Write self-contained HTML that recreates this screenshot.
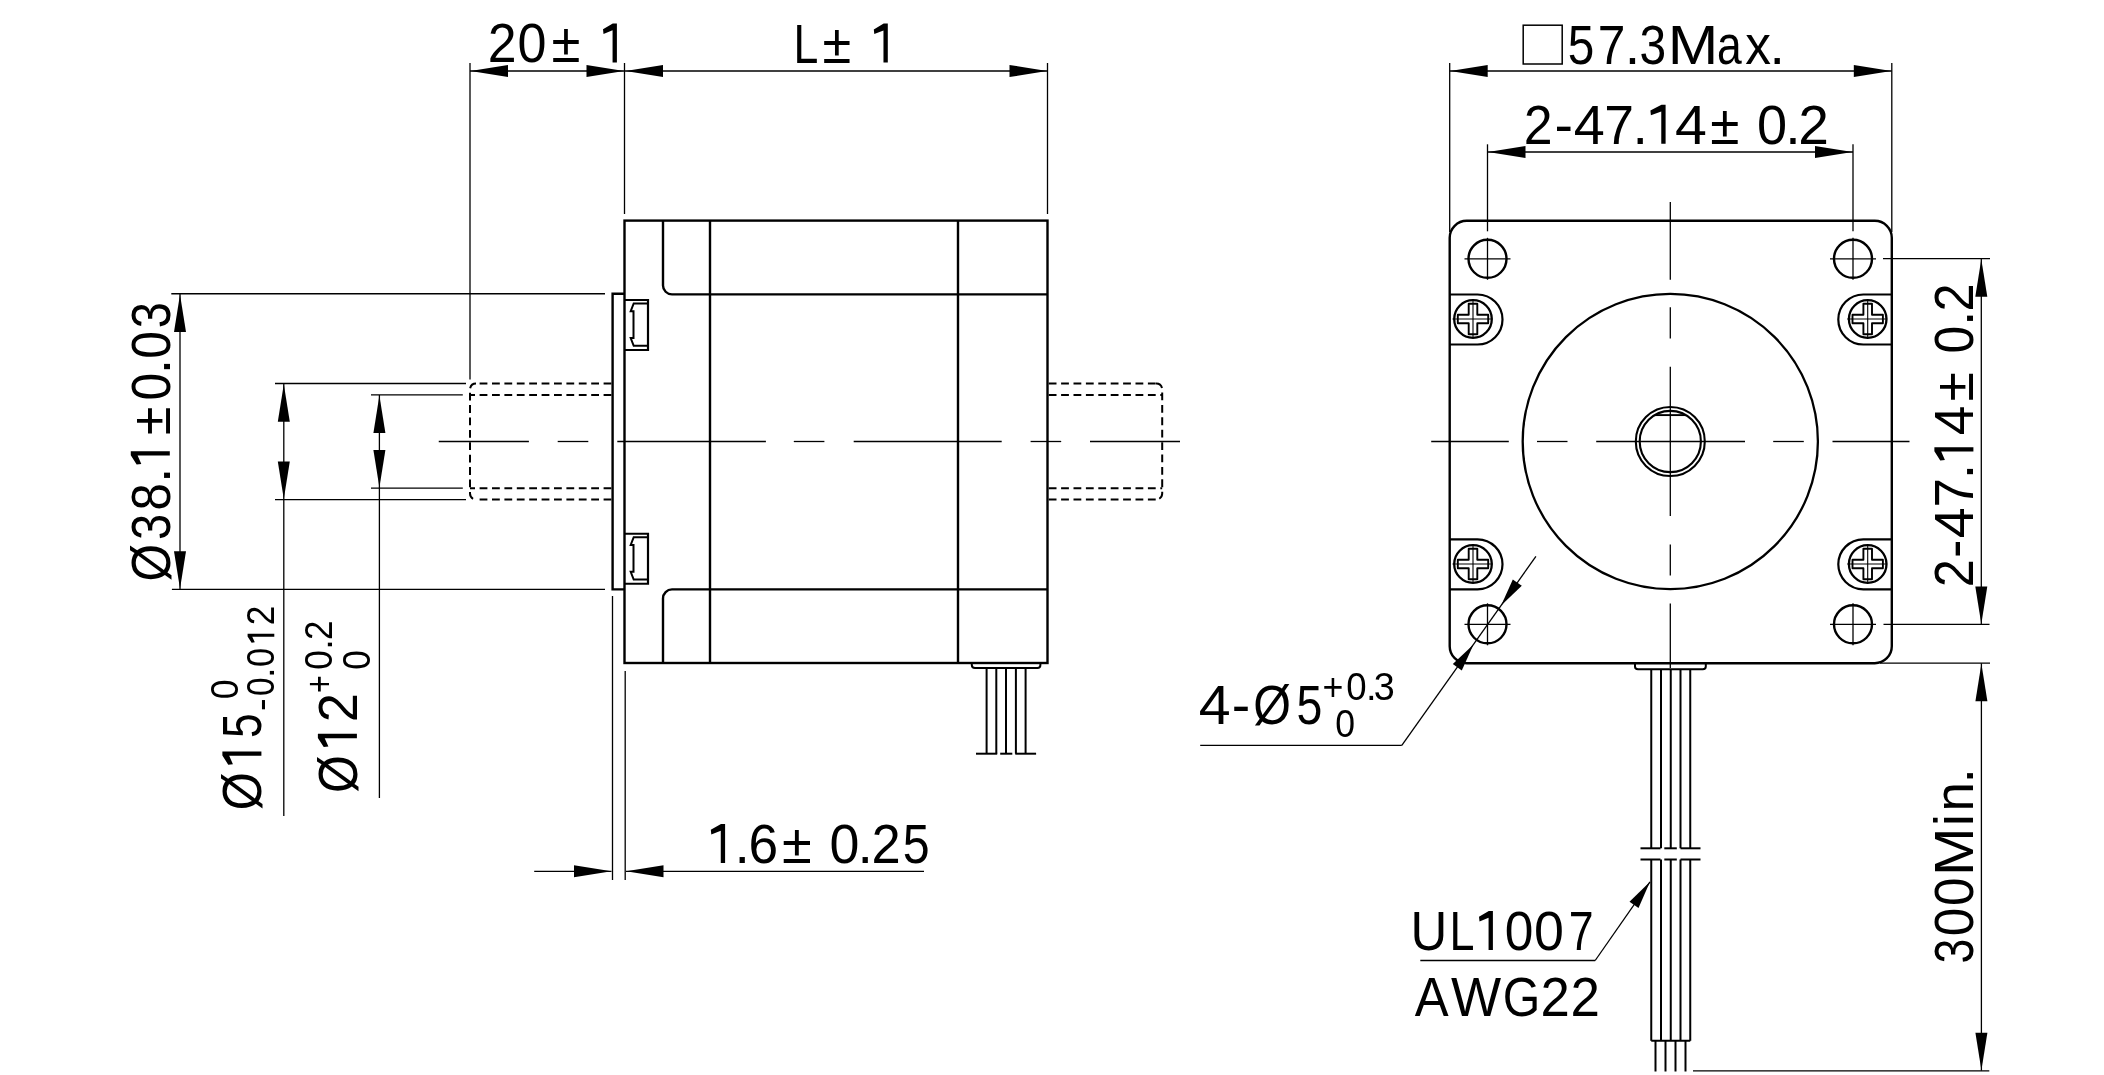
<!DOCTYPE html>
<html><head><meta charset="utf-8"><title>Stepper motor drawing</title>
<style>
html,body{margin:0;padding:0;background:#fff;}
body{width:2104px;height:1075px;overflow:hidden;}
svg{display:block;will-change:transform;}
text{stroke:none;font-family:"Liberation Sans",sans-serif;fill:#000;font-kerning:none;}
</style></head><body>
<svg width="2104" height="1075" viewBox="0 0 2104 1075" stroke="#000" stroke-linecap="butt">
<rect x="624.5" y="220.6" width="423.0" height="442.4" fill="none" stroke-width="2.4"/>
<line x1="710.00" y1="220.60" x2="710.00" y2="663.00" stroke-width="2.4" />
<line x1="958.00" y1="220.60" x2="958.00" y2="663.00" stroke-width="2.4" />
<path d="M663,220.6 V285.4 A9,9 0 0 0 672,294.4 H1047.5" stroke-width="2.4" fill="none" />
<path d="M663,663.0 V598.4 A9,9 0 0 1 672,589.4 H1047.5" stroke-width="2.4" fill="none" />
<path d="M624.5,293.75 H612.6 V589.4 H624.5" stroke-width="2.4" fill="none" />
<path d="M624.5,300.0 H648 V350.0 H624.5" stroke-width="2.2" fill="none" />
<path d="M647,303.4 H633.7 L630.7,311.25 H633.5 V338.0 H630.7 L633.7,345.8 H647" stroke-width="2.0" fill="none" />
<path d="M624.5,533.75 H648 V583.75 H624.5" stroke-width="2.2" fill="none" />
<path d="M647,537.15 H633.7 L630.7,545.0 H633.5 V571.75 H630.7 L633.7,579.55 H647" stroke-width="2.0" fill="none" />
<path d="M971.8,663.0 V665 Q971.8,668 975,668 H1037.4 Q1040.4,668 1040.4,665 V663.0" fill="none" stroke-width="2"/>
<line x1="986.60" y1="668.00" x2="986.60" y2="753.70" stroke-width="2.0" />
<line x1="996.30" y1="668.00" x2="996.30" y2="753.70" stroke-width="2.0" />
<line x1="1006.00" y1="668.00" x2="1006.00" y2="753.70" stroke-width="2.0" />
<line x1="1015.90" y1="668.00" x2="1015.90" y2="753.70" stroke-width="2.0" />
<line x1="1025.60" y1="668.00" x2="1025.60" y2="753.70" stroke-width="2.0" />
<line x1="976.00" y1="753.70" x2="997.20" y2="753.70" stroke-width="2.0" />
<line x1="1000.20" y1="753.70" x2="1012.30" y2="753.70" stroke-width="2.0" />
<line x1="1015.30" y1="753.70" x2="1036.10" y2="753.70" stroke-width="2.0" />
<line x1="611.40" y1="383.50" x2="476.00" y2="383.50" stroke-width="2.0" stroke-dasharray="7.8 4.6"/>
<line x1="1048.70" y1="383.50" x2="1156.00" y2="383.50" stroke-width="2.0" stroke-dasharray="7.8 4.6"/>
<line x1="611.40" y1="394.90" x2="470.00" y2="394.90" stroke-width="2.0" stroke-dasharray="7.8 4.6"/>
<line x1="1048.70" y1="394.90" x2="1162.20" y2="394.90" stroke-width="2.0" stroke-dasharray="7.8 4.6"/>
<line x1="611.40" y1="488.20" x2="470.00" y2="488.20" stroke-width="2.0" stroke-dasharray="7.8 4.6"/>
<line x1="1048.70" y1="488.20" x2="1162.20" y2="488.20" stroke-width="2.0" stroke-dasharray="7.8 4.6"/>
<line x1="611.40" y1="499.60" x2="476.00" y2="499.60" stroke-width="2.0" stroke-dasharray="7.8 4.6"/>
<line x1="1048.70" y1="499.60" x2="1156.00" y2="499.60" stroke-width="2.0" stroke-dasharray="7.8 4.6"/>
<path d="M476,383.5 A6,6 0 0 0 470,389.5 V493.6 A6,6 0 0 0 476,499.6" stroke-width="2.0" fill="none" stroke-dasharray="7.8 4.6"/>
<path d="M1156,383.5 A6,6 0 0 1 1162.2,389.5 V493.6 A6,6 0 0 1 1156,499.6" stroke-width="2.0" fill="none" stroke-dasharray="7.8 4.6"/>
<line x1="438.75" y1="441.50" x2="528.90" y2="441.50" stroke-width="1.3" />
<line x1="557.70" y1="441.50" x2="588.30" y2="441.50" stroke-width="1.3" />
<line x1="617.30" y1="441.50" x2="765.90" y2="441.50" stroke-width="1.3" />
<line x1="793.80" y1="441.50" x2="824.40" y2="441.50" stroke-width="1.3" />
<line x1="853.70" y1="441.50" x2="1001.70" y2="441.50" stroke-width="1.3" />
<line x1="1030.60" y1="441.50" x2="1061.20" y2="441.50" stroke-width="1.3" />
<line x1="1090.00" y1="441.50" x2="1180.00" y2="441.50" stroke-width="1.3" />
<line x1="470.00" y1="63.00" x2="470.00" y2="379.50" stroke-width="1.3" />
<line x1="624.50" y1="63.00" x2="624.50" y2="214.00" stroke-width="1.3" />
<line x1="1047.50" y1="63.00" x2="1047.50" y2="214.00" stroke-width="1.3" />
<line x1="470.00" y1="71.00" x2="1047.50" y2="71.00" stroke-width="1.3" />
<polygon points="470.50,71.00 508.00,65.00 508.00,77.00" fill="#000" stroke="none"/>
<polygon points="624.00,71.00 586.50,77.00 586.50,65.00" fill="#000" stroke="none"/>
<polygon points="625.50,71.00 663.00,65.00 663.00,77.00" fill="#000" stroke="none"/>
<polygon points="1047.00,71.00 1009.50,77.00 1009.50,65.00" fill="#000" stroke="none"/>
<line x1="171.30" y1="293.75" x2="605.00" y2="293.75" stroke-width="1.3" />
<line x1="171.90" y1="589.40" x2="605.00" y2="589.40" stroke-width="1.3" />
<line x1="180.00" y1="293.75" x2="180.00" y2="589.40" stroke-width="1.3" />
<polygon points="180.00,294.50 186.00,332.00 174.00,332.00" fill="#000" stroke="none"/>
<polygon points="180.00,588.70 174.00,551.20 186.00,551.20" fill="#000" stroke="none"/>
<line x1="275.00" y1="383.50" x2="466.00" y2="383.50" stroke-width="1.3" />
<line x1="275.00" y1="499.60" x2="466.00" y2="499.60" stroke-width="1.3" />
<line x1="283.80" y1="383.50" x2="283.80" y2="816.00" stroke-width="1.3" />
<polygon points="283.80,384.20 289.80,421.70 277.80,421.70" fill="#000" stroke="none"/>
<polygon points="283.80,498.90 277.80,461.40 289.80,461.40" fill="#000" stroke="none"/>
<line x1="371.00" y1="394.90" x2="462.80" y2="394.90" stroke-width="1.3" />
<line x1="371.00" y1="488.20" x2="462.80" y2="488.20" stroke-width="1.3" />
<line x1="379.40" y1="394.90" x2="379.40" y2="798.00" stroke-width="1.3" />
<polygon points="379.40,395.60 385.40,433.10 373.40,433.10" fill="#000" stroke="none"/>
<polygon points="379.40,487.50 373.40,450.00 385.40,450.00" fill="#000" stroke="none"/>
<line x1="612.50" y1="596.00" x2="612.50" y2="880.00" stroke-width="1.3" />
<line x1="625.20" y1="671.00" x2="625.20" y2="880.00" stroke-width="1.3" />
<line x1="534.20" y1="871.30" x2="611.50" y2="871.30" stroke-width="1.3" />
<line x1="626.00" y1="871.30" x2="924.00" y2="871.30" stroke-width="1.3" />
<polygon points="611.50,871.30 574.00,877.30 574.00,865.30" fill="#000" stroke="none"/>
<polygon points="626.00,871.30 663.50,865.30 663.50,877.30" fill="#000" stroke="none"/>
<rect x="1449.7" y="220.8" width="442.0999999999999" height="442.40000000000003" rx="17" ry="17" fill="none" stroke-width="2.4"/>
<circle cx="1487.5" cy="258.8" r="19" fill="none" stroke-width="2.4"/>
<line x1="1464.50" y1="258.80" x2="1510.50" y2="258.80" stroke-width="1.3" />
<line x1="1487.50" y1="237.80" x2="1487.50" y2="279.80" stroke-width="1.3" />
<circle cx="1487.5" cy="624.3" r="19" fill="none" stroke-width="2.4"/>
<line x1="1464.50" y1="624.30" x2="1510.50" y2="624.30" stroke-width="1.3" />
<line x1="1487.50" y1="603.30" x2="1487.50" y2="645.30" stroke-width="1.3" />
<circle cx="1853.0" cy="258.8" r="19" fill="none" stroke-width="2.4"/>
<line x1="1830.00" y1="258.80" x2="1876.00" y2="258.80" stroke-width="1.3" />
<line x1="1853.00" y1="237.80" x2="1853.00" y2="279.80" stroke-width="1.3" />
<circle cx="1853.0" cy="624.3" r="19" fill="none" stroke-width="2.4"/>
<line x1="1830.00" y1="624.30" x2="1876.00" y2="624.30" stroke-width="1.3" />
<line x1="1853.00" y1="603.30" x2="1853.00" y2="645.30" stroke-width="1.3" />
<path d="M1449.7,294.5 H1477.5 A25,25 0 0 1 1477.5,344.5 H1449.7" stroke-width="2.2" fill="none" />
<path d="M1891.8,294.5 H1863.3 A25,25 0 0 0 1863.3,344.5 H1891.8" stroke-width="2.2" fill="none" />
<path d="M1449.7,539.3 H1477.5 A25,25 0 0 1 1477.5,589.3 H1449.7" stroke-width="2.2" fill="none" />
<path d="M1891.8,539.3 H1863.3 A25,25 0 0 0 1863.3,589.3 H1891.8" stroke-width="2.2" fill="none" />
<circle cx="1473.0" cy="319.0" r="18.8" fill="none" stroke-width="2.3"/>
<path d="M1468.7,303.8 H1477.3 V314.7 H1488.2 V323.3 H1477.3 V334.2 H1468.7 V323.3 H1457.8 V314.7 H1468.7 Z" fill="none" stroke-width="1.9" stroke-linejoin="round"/>
<line x1="1452.50" y1="319.00" x2="1491.50" y2="319.00" stroke-width="1.1" />
<line x1="1473.00" y1="301.00" x2="1473.00" y2="337.00" stroke-width="1.1" />
<circle cx="1473.0" cy="564.0" r="18.8" fill="none" stroke-width="2.3"/>
<path d="M1468.7,548.8 H1477.3 V559.7 H1488.2 V568.3 H1477.3 V579.2 H1468.7 V568.3 H1457.8 V559.7 H1468.7 Z" fill="none" stroke-width="1.9" stroke-linejoin="round"/>
<line x1="1452.50" y1="564.00" x2="1491.50" y2="564.00" stroke-width="1.1" />
<line x1="1473.00" y1="546.00" x2="1473.00" y2="582.00" stroke-width="1.1" />
<circle cx="1867.7" cy="319.0" r="18.8" fill="none" stroke-width="2.3"/>
<path d="M1863.4,303.8 H1872.0 V314.7 H1882.9 V323.3 H1872.0 V334.2 H1863.4 V323.3 H1852.5 V314.7 H1863.4 Z" fill="none" stroke-width="1.9" stroke-linejoin="round"/>
<line x1="1847.20" y1="319.00" x2="1886.20" y2="319.00" stroke-width="1.1" />
<line x1="1867.70" y1="301.00" x2="1867.70" y2="337.00" stroke-width="1.1" />
<circle cx="1867.7" cy="564.0" r="18.8" fill="none" stroke-width="2.3"/>
<path d="M1863.4,548.8 H1872.0 V559.7 H1882.9 V568.3 H1872.0 V579.2 H1863.4 V568.3 H1852.5 V559.7 H1863.4 Z" fill="none" stroke-width="1.9" stroke-linejoin="round"/>
<line x1="1847.20" y1="564.00" x2="1886.20" y2="564.00" stroke-width="1.1" />
<line x1="1867.70" y1="546.00" x2="1867.70" y2="582.00" stroke-width="1.1" />
<circle cx="1670.3" cy="441.5" r="147.6" fill="none" stroke-width="2.3"/>
<circle cx="1670.3" cy="441.5" r="34.5" fill="none" stroke-width="2.1"/>
<circle cx="1670.3" cy="441.5" r="30.6" fill="none" stroke-width="2.1"/>
<line x1="1654.83" y1="415.10" x2="1685.77" y2="415.10" stroke-width="1.9" />
<line x1="1431.20" y1="441.50" x2="1508.80" y2="441.50" stroke-width="1.3" />
<line x1="1537.00" y1="441.50" x2="1567.50" y2="441.50" stroke-width="1.3" />
<line x1="1596.20" y1="441.50" x2="1745.00" y2="441.50" stroke-width="1.3" />
<line x1="1773.20" y1="441.50" x2="1803.80" y2="441.50" stroke-width="1.3" />
<line x1="1832.50" y1="441.50" x2="1909.50" y2="441.50" stroke-width="1.3" />
<line x1="1670.30" y1="202.10" x2="1670.30" y2="279.80" stroke-width="1.3" />
<line x1="1670.30" y1="307.20" x2="1670.30" y2="338.40" stroke-width="1.3" />
<line x1="1670.30" y1="366.70" x2="1670.30" y2="516.10" stroke-width="1.3" />
<line x1="1670.30" y1="544.40" x2="1670.30" y2="575.60" stroke-width="1.3" />
<line x1="1670.30" y1="603.40" x2="1670.30" y2="668.00" stroke-width="1.3" />
<path d="M1635,663.2 V666.5 Q1635,669.3 1638,669.3 H1702.8 Q1705.8,669.3 1705.8,666.5 V663.2" fill="none" stroke-width="2"/>
<line x1="1651.25" y1="669.30" x2="1651.25" y2="848.30" stroke-width="2.0" />
<line x1="1651.25" y1="859.50" x2="1651.25" y2="1040.80" stroke-width="2.0" />
<line x1="1661.00" y1="669.30" x2="1661.00" y2="848.30" stroke-width="2.0" />
<line x1="1661.00" y1="859.50" x2="1661.00" y2="1040.80" stroke-width="2.0" />
<line x1="1670.75" y1="669.30" x2="1670.75" y2="848.30" stroke-width="2.0" />
<line x1="1670.75" y1="859.50" x2="1670.75" y2="1040.80" stroke-width="2.0" />
<line x1="1680.50" y1="669.30" x2="1680.50" y2="848.30" stroke-width="2.0" />
<line x1="1680.50" y1="859.50" x2="1680.50" y2="1040.80" stroke-width="2.0" />
<line x1="1690.25" y1="669.30" x2="1690.25" y2="848.30" stroke-width="2.0" />
<line x1="1690.25" y1="859.50" x2="1690.25" y2="1040.80" stroke-width="2.0" />
<line x1="1640.50" y1="848.30" x2="1660.50" y2="848.30" stroke-width="2.0" />
<line x1="1664.30" y1="848.30" x2="1676.80" y2="848.30" stroke-width="2.0" />
<line x1="1680.50" y1="848.30" x2="1700.50" y2="848.30" stroke-width="2.0" />
<line x1="1640.50" y1="859.50" x2="1660.50" y2="859.50" stroke-width="2.0" />
<line x1="1664.30" y1="859.50" x2="1676.80" y2="859.50" stroke-width="2.0" />
<line x1="1680.50" y1="859.50" x2="1700.50" y2="859.50" stroke-width="2.0" />
<line x1="1651.25" y1="1040.80" x2="1690.25" y2="1040.80" stroke-width="2.0" />
<line x1="1655.50" y1="1040.80" x2="1655.50" y2="1071.50" stroke-width="2.0" />
<line x1="1665.50" y1="1040.80" x2="1665.50" y2="1071.50" stroke-width="2.0" />
<line x1="1675.50" y1="1040.80" x2="1675.50" y2="1071.50" stroke-width="2.0" />
<line x1="1685.50" y1="1040.80" x2="1685.50" y2="1071.50" stroke-width="2.0" />
<line x1="1449.70" y1="63.00" x2="1449.70" y2="232.00" stroke-width="1.3" />
<line x1="1891.80" y1="63.00" x2="1891.80" y2="232.00" stroke-width="1.3" />
<line x1="1449.70" y1="71.00" x2="1891.80" y2="71.00" stroke-width="1.3" />
<polygon points="1450.20,71.00 1487.70,65.00 1487.70,77.00" fill="#000" stroke="none"/>
<polygon points="1891.30,71.00 1853.80,77.00 1853.80,65.00" fill="#000" stroke="none"/>
<rect x="1523.2" y="25.2" width="39" height="38.8" fill="none" stroke-width="1.5"/>
<line x1="1487.50" y1="144.30" x2="1487.50" y2="231.30" stroke-width="1.3" />
<line x1="1853.00" y1="144.30" x2="1853.00" y2="231.30" stroke-width="1.3" />
<line x1="1487.50" y1="152.00" x2="1853.00" y2="152.00" stroke-width="1.3" />
<polygon points="1488.00,152.00 1525.50,146.00 1525.50,158.00" fill="#000" stroke="none"/>
<polygon points="1852.50,152.00 1815.00,158.00 1815.00,146.00" fill="#000" stroke="none"/>
<line x1="1883.00" y1="258.70" x2="1990.00" y2="258.70" stroke-width="1.3" />
<line x1="1883.50" y1="624.40" x2="1989.50" y2="624.40" stroke-width="1.3" />
<line x1="1981.30" y1="258.70" x2="1981.30" y2="624.40" stroke-width="1.3" />
<polygon points="1981.30,259.20 1987.30,296.70 1975.30,296.70" fill="#000" stroke="none"/>
<polygon points="1981.30,623.90 1975.30,586.40 1987.30,586.40" fill="#000" stroke="none"/>
<line x1="1880.00" y1="663.20" x2="1990.00" y2="663.20" stroke-width="1.3" />
<line x1="1693.00" y1="1070.80" x2="1989.30" y2="1070.80" stroke-width="1.3" />
<line x1="1981.40" y1="663.20" x2="1981.40" y2="1070.80" stroke-width="1.3" />
<polygon points="1981.40,663.70 1987.40,701.20 1975.40,701.20" fill="#000" stroke="none"/>
<polygon points="1981.40,1070.30 1975.40,1032.80 1987.40,1032.80" fill="#000" stroke="none"/>
<line x1="1200.20" y1="745.30" x2="1401.80" y2="745.30" stroke-width="1.3" />
<line x1="1401.80" y1="745.30" x2="1535.90" y2="556.40" stroke-width="1.3" />
<polygon points="1501.10,605.50 1512.82,579.48 1521.79,585.85" fill="#000" stroke="none"/>
<polygon points="1473.50,644.40 1461.78,670.42 1452.81,664.05" fill="#000" stroke="none"/>
<line x1="1420.30" y1="960.50" x2="1595.20" y2="960.50" stroke-width="1.3" />
<line x1="1595.20" y1="960.50" x2="1650.00" y2="881.80" stroke-width="1.3" />
<polygon points="1650.00,881.80 1638.51,907.92 1629.49,901.64" fill="#000" stroke="none"/>
<text transform="translate(0,62.4) matrix(0.933,0,0,1,502.10,0)" x="-15.43" y="0" font-size="55.5">2</text>
<text transform="translate(0,62.4) matrix(0.939,0,0,1,532.05,0)" x="-15.43" y="0" font-size="55.5">0</text>
<text transform="translate(0,62.4) matrix(0.949,0,0,1,565.90,0)" x="-15.24" y="0" font-size="55.5">±</text>
<path transform="translate(0,62.4) " d="M616.90,0 V-39.02 H612.79 L603.00,-33.16 L603.50,-28.48 L612.57,-32.19 V0 Z" fill="#000" stroke="none"/>
<text transform="translate(0,62.6) matrix(0.805,0,0,1,806.95,0)" x="-16.79" y="0" font-size="55.5">L</text>
<text transform="translate(0,62.6) matrix(0.942,0,0,1,836.90,0)" x="-15.24" y="0" font-size="55.5">±</text>
<path transform="translate(0,62.6) " d="M887.80,0 V-39.02 H883.69 L873.80,-33.16 L874.30,-28.48 L883.47,-32.19 V0 Z" fill="#000" stroke="none"/>
<path transform="translate(0,862.9) " d="M725.10,0 V-39.02 H720.99 L710.80,-33.16 L711.30,-28.48 L720.77,-32.19 V0 Z" fill="#000" stroke="none"/>
<text transform="translate(0,862.9) matrix(1.000,0,0,1,742.20,0)" x="-7.71" y="0" font-size="55.5">.</text>
<text transform="translate(0,862.9) matrix(0.961,0,0,1,763.60,0)" x="-15.62" y="0" font-size="55.5">6</text>
<text transform="translate(0,862.9) matrix(0.975,0,0,1,796.95,0)" x="-15.24" y="0" font-size="55.5">±</text>
<text transform="translate(0,862.9) matrix(0.969,0,0,1,844.55,0)" x="-15.43" y="0" font-size="55.5">0</text>
<text transform="translate(0,862.9) matrix(1.000,0,0,1,865.10,0)" x="-7.71" y="0" font-size="55.5">.</text>
<text transform="translate(0,862.9) matrix(0.945,0,0,1,885.95,0)" x="-15.43" y="0" font-size="55.5">2</text>
<text transform="translate(0,862.9) matrix(0.870,0,0,1,916.15,0)" x="-15.38" y="0" font-size="55.5">5</text>
<text transform="translate(0,63.6) matrix(0.859,0,0,1,1580.90,0)" x="-15.38" y="0" font-size="55.5">5</text>
<text transform="translate(0,63.6) matrix(0.896,0,0,1,1611.50,0)" x="-15.46" y="0" font-size="55.5">7</text>
<text transform="translate(0,63.6) matrix(1.000,0,0,1,1632.45,0)" x="-7.71" y="0" font-size="55.5">.</text>
<text transform="translate(0,63.6) matrix(0.863,0,0,1,1652.75,0)" x="-15.27" y="0" font-size="55.5">3</text>
<text transform="translate(0,63.6) matrix(1.094,0,0,1,1693.00,0)" x="-23.12" y="0" font-size="55.5">M</text>
<text transform="translate(0,63.6) matrix(0.800,0,0,1,1730.25,0)" x="-16.61" y="0" font-size="55.5">a</text>
<text transform="translate(0,63.6) matrix(0.927,0,0,1,1758.20,0)" x="-13.89" y="0" font-size="55.5">x</text>
<text transform="translate(0,63.6) matrix(1.000,0,0,1,1777.15,0)" x="-7.71" y="0" font-size="55.5">.</text>
<text transform="translate(0,143.7) matrix(0.933,0,0,1,1538.20,0)" x="-15.43" y="0" font-size="55.5">2</text>
<text transform="translate(0,143.7) matrix(1.000,0,0,1,1563.65,0)" x="-9.24" y="0" font-size="55.5">-</text>
<text transform="translate(0,143.7) matrix(1.005,0,0,1,1589.15,0)" x="-15.26" y="0" font-size="55.5">4</text>
<text transform="translate(0,143.7) matrix(0.963,0,0,1,1619.15,0)" x="-15.46" y="0" font-size="55.5">7</text>
<text transform="translate(0,143.7) matrix(1.000,0,0,1,1640.10,0)" x="-7.71" y="0" font-size="55.5">.</text>
<path transform="translate(0,143.7) " d="M1665.60,0 V-39.02 H1661.49 L1650.40,-33.16 L1650.90,-28.48 L1661.27,-32.19 V0 Z" fill="#000" stroke="none"/>
<text transform="translate(0,143.7) matrix(1.033,0,0,1,1690.65,0)" x="-15.26" y="0" font-size="55.5">4</text>
<text transform="translate(0,143.7) matrix(0.957,0,0,1,1724.90,0)" x="-15.24" y="0" font-size="55.5">±</text>
<text transform="translate(0,143.7) matrix(0.976,0,0,1,1772.05,0)" x="-15.43" y="0" font-size="55.5">0</text>
<text transform="translate(0,143.7) matrix(1.000,0,0,1,1792.95,0)" x="-7.71" y="0" font-size="55.5">.</text>
<text transform="translate(0,143.7) matrix(0.993,0,0,1,1813.45,0)" x="-15.43" y="0" font-size="55.5">2</text>
<text transform="translate(0,949.9) matrix(0.917,0,0,1,1428.75,0)" x="-20.04" y="0" font-size="55.5">U</text>
<text transform="translate(0,949.9) matrix(0.809,0,0,1,1463.20,0)" x="-16.79" y="0" font-size="55.5">L</text>
<path transform="translate(0,949.9) " d="M1492.90,0 V-39.02 H1488.79 L1479.00,-33.16 L1479.50,-28.48 L1488.57,-32.19 V0 Z" fill="#000" stroke="none"/>
<text transform="translate(0,949.9) matrix(0.927,0,0,1,1519.10,0)" x="-15.43" y="0" font-size="55.5">0</text>
<text transform="translate(0,949.9) matrix(0.969,0,0,1,1549.05,0)" x="-15.43" y="0" font-size="55.5">0</text>
<text transform="translate(0,949.9) matrix(0.805,0,0,1,1581.15,0)" x="-15.46" y="0" font-size="55.5">7</text>
<text transform="translate(0,1015.7) matrix(0.916,0,0,1,1431.65,0)" x="-18.51" y="0" font-size="55.5">A</text>
<text transform="translate(0,1015.7) matrix(0.957,0,0,1,1476.05,0)" x="-26.22" y="0" font-size="55.5">W</text>
<text transform="translate(0,1015.7) matrix(0.869,0,0,1,1520.95,0)" x="-20.91" y="0" font-size="55.5">G</text>
<text transform="translate(0,1015.7) matrix(0.949,0,0,1,1555.20,0)" x="-15.43" y="0" font-size="55.5">2</text>
<text transform="translate(0,1015.7) matrix(0.953,0,0,1,1585.15,0)" x="-15.43" y="0" font-size="55.5">2</text>
<text transform="translate(0,723.9) matrix(1.033,0,0,1,1214.45,0)" x="-15.26" y="0" font-size="55.5">4</text>
<text transform="translate(0,723.9) matrix(1.000,0,0,1,1240.90,0)" x="-9.24" y="0" font-size="55.5">-</text>
<text transform="translate(0,723.9) matrix(0.874,0,0,1,1272.10,0)" x="-21.61" y="0" font-size="55.5">Ø</text>
<text transform="translate(0,723.9) matrix(0.836,0,0,1,1309.30,0)" x="-15.38" y="0" font-size="55.5">5</text>
<text transform="translate(0,699.5) matrix(0.942,0,0,1,1333.00,0)" x="-11.09" y="0" font-size="38.0">+</text>
<text transform="translate(0,699.5) matrix(0.963,0,0,1,1356.45,0)" x="-10.57" y="0" font-size="38.0">0</text>
<text transform="translate(0,699.5) matrix(1.000,0,0,1,1371.20,0)" x="-5.28" y="0" font-size="38.0">.</text>
<text transform="translate(0,699.5) matrix(0.994,0,0,1,1384.15,0)" x="-10.46" y="0" font-size="38.0">3</text>
<text transform="translate(0,736.5) matrix(0.936,0,0,1,1345.20,0)" x="-10.57" y="0" font-size="38.0">0</text>
<text transform="translate(169.8,0) rotate(-90) matrix(0.869,0,0,1,-562.70,0)" x="-21.61" y="0" font-size="55.5">Ø</text>
<text transform="translate(169.8,0) rotate(-90) matrix(0.847,0,0,1,-526.95,0)" x="-15.27" y="0" font-size="55.5">3</text>
<text transform="translate(169.8,0) rotate(-90) matrix(0.883,0,0,1,-496.90,0)" x="-15.43" y="0" font-size="55.5">8</text>
<text transform="translate(169.8,0) rotate(-90) matrix(1.000,0,0,1,-475.30,0)" x="-7.71" y="0" font-size="55.5">.</text>
<path transform="translate(169.8,0) rotate(-90) " d="M-451.20,0 V-39.02 H-455.31 L-464.50,-33.16 L-464.00,-28.48 L-455.53,-32.19 V0 Z" fill="#000" stroke="none"/>
<text transform="translate(169.8,0) rotate(-90) matrix(0.938,0,0,1,-420.85,0)" x="-15.24" y="0" font-size="55.5">±</text>
<text transform="translate(169.8,0) rotate(-90) matrix(0.897,0,0,1,-386.70,0)" x="-15.43" y="0" font-size="55.5">0</text>
<text transform="translate(169.8,0) rotate(-90) matrix(1.000,0,0,1,-366.60,0)" x="-7.71" y="0" font-size="55.5">.</text>
<text transform="translate(169.8,0) rotate(-90) matrix(0.897,0,0,1,-345.00,0)" x="-15.43" y="0" font-size="55.5">0</text>
<text transform="translate(169.8,0) rotate(-90) matrix(0.847,0,0,1,-315.25,0)" x="-15.27" y="0" font-size="55.5">3</text>
<text transform="translate(261.4,0) rotate(-90) matrix(0.881,0,0,1,-791.25,0)" x="-21.61" y="0" font-size="55.5">Ø</text>
<path transform="translate(261.4,0) rotate(-90) " d="M-751.40,0 V-39.02 H-755.51 L-764.70,-33.16 L-764.20,-28.48 L-755.73,-32.19 V0 Z" fill="#000" stroke="none"/>
<text transform="translate(261.4,0) rotate(-90) matrix(0.800,0,0,1,-725.80,0)" x="-15.38" y="0" font-size="55.5">5</text>
<text transform="translate(237.5,0) rotate(-90) matrix(0.936,0,0,1,-689.40,0)" x="-10.57" y="0" font-size="38.0">0</text>
<text transform="translate(274.3,0) rotate(-90) matrix(1.000,0,0,1,-704.75,0)" x="-6.33" y="0" font-size="38.0">-</text>
<text transform="translate(274.3,0) rotate(-90) matrix(0.881,0,0,1,-686.60,0)" x="-10.57" y="0" font-size="38.0">0</text>
<text transform="translate(274.3,0) rotate(-90) matrix(1.000,0,0,1,-672.65,0)" x="-5.28" y="0" font-size="38.0">.</text>
<text transform="translate(274.3,0) rotate(-90) matrix(0.908,0,0,1,-657.45,0)" x="-10.57" y="0" font-size="38.0">0</text>
<path transform="translate(274.3,0) rotate(-90) " d="M-633.70,0 V-26.71 H-636.52 L-642.80,-22.71 L-642.30,-19.50 L-636.66,-22.04 V0 Z" fill="#000" stroke="none"/>
<text transform="translate(274.3,0) rotate(-90) matrix(0.924,0,0,1,-615.50,0)" x="-10.57" y="0" font-size="38.0">2</text>
<text transform="translate(356.9,0) rotate(-90) matrix(0.874,0,0,1,-774.00,0)" x="-21.61" y="0" font-size="55.5">Ø</text>
<path transform="translate(356.9,0) rotate(-90) " d="M-733.80,0 V-39.02 H-737.91 L-747.00,-33.16 L-746.50,-28.48 L-738.13,-32.19 V0 Z" fill="#000" stroke="none"/>
<text transform="translate(356.9,0) rotate(-90) matrix(0.945,0,0,1,-707.65,0)" x="-15.43" y="0" font-size="55.5">2</text>
<text transform="translate(331.7,0) rotate(-90) matrix(0.800,0,0,1,-684.25,0)" x="-11.09" y="0" font-size="38.0">+</text>
<text transform="translate(331.7,0) rotate(-90) matrix(0.925,0,0,1,-659.90,0)" x="-10.57" y="0" font-size="38.0">0</text>
<text transform="translate(331.7,0) rotate(-90) matrix(1.000,0,0,1,-644.45,0)" x="-5.28" y="0" font-size="38.0">.</text>
<text transform="translate(331.7,0) rotate(-90) matrix(0.918,0,0,1,-630.35,0)" x="-10.57" y="0" font-size="38.0">2</text>
<text transform="translate(369.7,0) rotate(-90) matrix(0.925,0,0,1,-659.90,0)" x="-10.57" y="0" font-size="38.0">0</text>
<text transform="translate(1973.4,0) rotate(-90) matrix(0.910,0,0,1,-573.30,0)" x="-15.43" y="0" font-size="55.5">2</text>
<text transform="translate(1973.4,0) rotate(-90) matrix(1.000,0,0,1,-548.75,0)" x="-9.24" y="0" font-size="55.5">-</text>
<text transform="translate(1973.4,0) rotate(-90) matrix(0.998,0,0,1,-523.05,0)" x="-15.26" y="0" font-size="55.5">4</text>
<text transform="translate(1973.4,0) rotate(-90) matrix(0.951,0,0,1,-492.70,0)" x="-15.46" y="0" font-size="55.5">7</text>
<text transform="translate(1973.4,0) rotate(-90) matrix(1.000,0,0,1,-471.50,0)" x="-7.71" y="0" font-size="55.5">.</text>
<path transform="translate(1973.4,0) rotate(-90) " d="M-447.20,0 V-39.02 H-451.31 L-460.60,-33.16 L-460.10,-28.48 L-451.53,-32.19 V0 Z" fill="#000" stroke="none"/>
<text transform="translate(1973.4,0) rotate(-90) matrix(0.958,0,0,1,-420.70,0)" x="-15.26" y="0" font-size="55.5">4</text>
<text transform="translate(1973.4,0) rotate(-90) matrix(0.964,0,0,1,-386.80,0)" x="-15.24" y="0" font-size="55.5">±</text>
<text transform="translate(1973.4,0) rotate(-90) matrix(0.901,0,0,1,-339.55,0)" x="-15.43" y="0" font-size="55.5">0</text>
<text transform="translate(1973.4,0) rotate(-90) matrix(1.000,0,0,1,-318.35,0)" x="-7.71" y="0" font-size="55.5">.</text>
<text transform="translate(1973.4,0) rotate(-90) matrix(0.910,0,0,1,-297.50,0)" x="-15.43" y="0" font-size="55.5">2</text>
<text transform="translate(1972.8,0) rotate(-90) matrix(0.800,0,0,1,-951.40,0)" x="-15.27" y="0" font-size="55.5">3</text>
<text transform="translate(1972.8,0) rotate(-90) matrix(0.923,0,0,1,-921.95,0)" x="-15.43" y="0" font-size="55.5">0</text>
<text transform="translate(1972.8,0) rotate(-90) matrix(0.923,0,0,1,-891.75,0)" x="-15.43" y="0" font-size="55.5">0</text>
<text transform="translate(1972.8,0) rotate(-90) matrix(1.053,0,0,1,-851.75,0)" x="-23.12" y="0" font-size="55.5">M</text>
<text transform="translate(1972.8,0) rotate(-90) matrix(0.964,0,0,1,-820.15,0)" x="-6.15" y="0" font-size="55.5">i</text>
<text transform="translate(1972.8,0) rotate(-90) matrix(0.954,0,0,1,-796.85,0)" x="-15.47" y="0" font-size="55.5">n</text>
<text transform="translate(1972.8,0) rotate(-90) matrix(1.000,0,0,1,-775.90,0)" x="-7.71" y="0" font-size="55.5">.</text>
</svg>
</body></html>
